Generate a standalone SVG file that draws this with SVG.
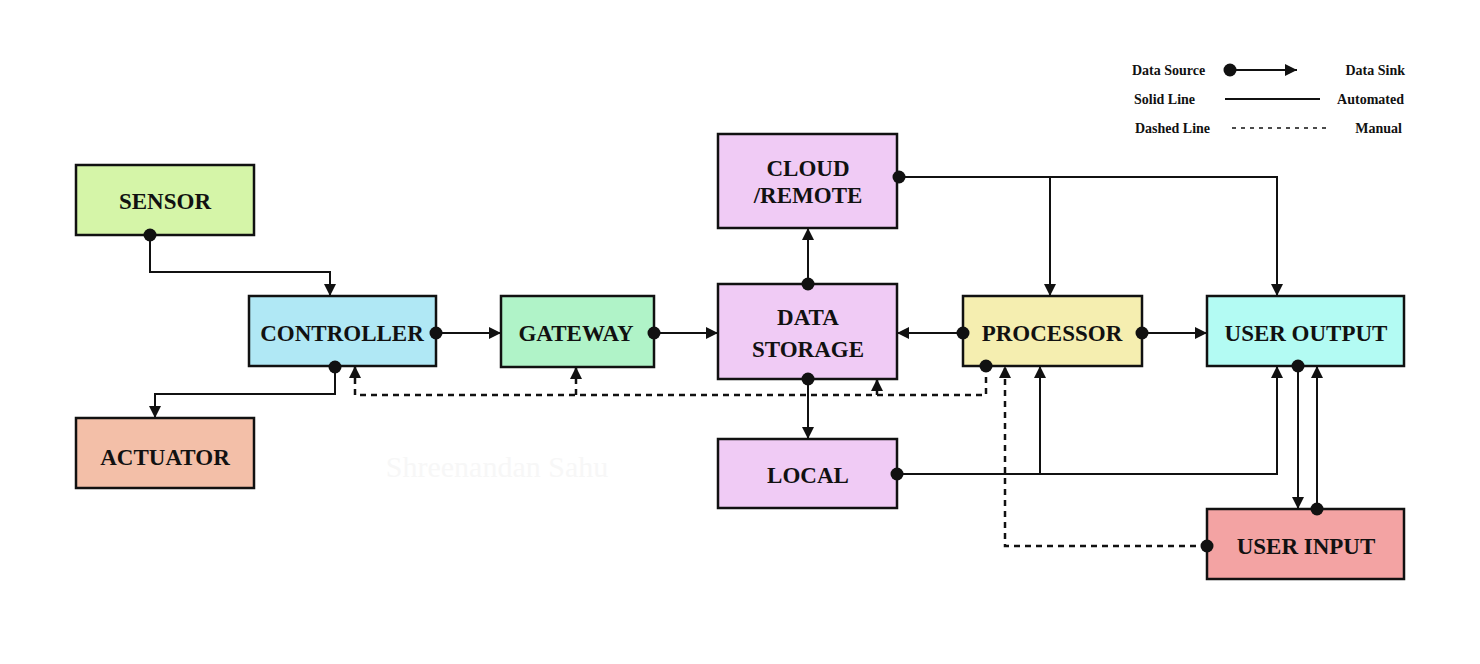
<svg xmlns="http://www.w3.org/2000/svg" width="1480" height="664" viewBox="0 0 1480 664">
<style>
.box{stroke:#111;stroke-width:2.5}
.lbl{font-family:"Liberation Serif","DejaVu Serif",serif;font-weight:bold;font-size:23px;fill:#111;text-anchor:middle;dominant-baseline:central}
.leg{font-family:"Liberation Serif","DejaVu Serif",serif;font-weight:bold;font-size:14px;fill:#111;dominant-baseline:central}
.c{fill:none;stroke:#111;stroke-width:2}
.d{fill:none;stroke:#111;stroke-width:2.5;stroke-dasharray:6 5}
</style>
<defs>
<marker id="dot" markerUnits="userSpaceOnUse" markerWidth="16" markerHeight="16" refX="8" refY="8" orient="auto"><circle cx="8" cy="8" r="6.5" fill="#111"/></marker>
<marker id="arr" markerUnits="userSpaceOnUse" markerWidth="14" markerHeight="14" refX="12" refY="7" orient="auto"><path d="M0,1 L12,7 L0,13 Z" fill="#111"/></marker>
</defs>
<rect width="1480" height="664" fill="#fff"/>
<text x="497" y="466" font-family="Liberation Serif,serif" font-size="30" fill="#f7f7f7" text-anchor="middle" dominant-baseline="central">Shreenandan Sahu</text>
<g id="sensor"><rect class="box" x="76" y="165" width="178" height="70" fill="#d5f5a8"/><text class="lbl" x="165" y="201">SENSOR</text></g>
<g id="controller"><rect class="box" x="249" y="296" width="187" height="70" fill="#b0e8f5"/><text class="lbl" x="342" y="333">CONTROLLER</text></g>
<g id="actuator"><rect class="box" x="76" y="418" width="178" height="70" fill="#f3bfa8"/><text class="lbl" x="165" y="457">ACTUATOR</text></g>
<g id="gateway"><rect class="box" x="501" y="296" width="153" height="71" fill="#b0f3c8"/><text class="lbl" x="576" y="333">GATEWAY</text></g>
<g id="cloud"><rect class="box" x="718" y="134" width="179" height="94" fill="#f0cbf5"/><text class="lbl" x="808" y="168">CLOUD</text><text class="lbl" x="808" y="195">/REMOTE</text></g>
<g id="datastorage"><rect class="box" x="718" y="284" width="179" height="95" fill="#f0cbf5"/><text class="lbl" x="808" y="317">DATA</text><text class="lbl" x="808" y="349">STORAGE</text></g>
<g id="local"><rect class="box" x="718" y="439" width="179" height="69" fill="#f0cbf5"/><text class="lbl" x="808" y="475">LOCAL</text></g>
<g id="processor"><rect class="box" x="963" y="296" width="179" height="70" fill="#f5eeb0"/><text class="lbl" x="1052" y="333">PROCESSOR</text></g>
<g id="useroutput"><rect class="box" x="1207" y="296" width="197" height="70" fill="#b3fbf3"/><text class="lbl" x="1306" y="333">USER OUTPUT</text></g>
<g id="userinput"><rect class="box" x="1207" y="509" width="197" height="70" fill="#f3a3a3"/><text class="lbl" x="1306" y="546">USER INPUT</text></g>
<g id="connectors">
<path class="c" d="M150,235 V272 H330 V296" marker-start="url(#dot)" marker-end="url(#arr)"/>
<path class="c" d="M335,367 V394 H155 V418" marker-start="url(#dot)" marker-end="url(#arr)"/>
<path class="c" d="M436,333 H501" marker-start="url(#dot)" marker-end="url(#arr)"/>
<path class="c" d="M654,333 H718" marker-start="url(#dot)" marker-end="url(#arr)"/>
<path class="c" d="M963,333 H897" marker-start="url(#dot)" marker-end="url(#arr)"/>
<path class="c" d="M808,284 V228" marker-start="url(#dot)" marker-end="url(#arr)"/>
<path class="c" d="M808,379 V439" marker-start="url(#dot)" marker-end="url(#arr)"/>
<path class="c" d="M899,177 H1277 V296" marker-start="url(#dot)" marker-end="url(#arr)"/>
<path class="c" d="M1050,177 V296" marker-end="url(#arr)"/>
<path class="c" d="M897,474 H1277 V366" marker-start="url(#dot)" marker-end="url(#arr)"/>
<path class="c" d="M1040,474 V366" marker-end="url(#arr)"/>
<path class="c" d="M1142,333 H1207" marker-start="url(#dot)" marker-end="url(#arr)"/>
<path class="c" d="M1298,366 V509" marker-start="url(#dot)" marker-end="url(#arr)"/>
<path class="c" d="M1317,509 V366" marker-start="url(#dot)" marker-end="url(#arr)"/>
<path class="d" d="M986,366 V395 H355 V366" marker-start="url(#dot)" marker-end="url(#arr)"/>
<path class="d" d="M576,395 V367" marker-end="url(#arr)"/>
<path class="d" d="M877,395 V379" marker-end="url(#arr)"/>
<path class="d" d="M1207,546 H1005 V366" marker-start="url(#dot)" marker-end="url(#arr)"/>
</g>
<g id="legend">
<text class="leg" x="1132" y="70">Data Source</text>
<path class="c" d="M1230,70 H1297" marker-start="url(#dot)" marker-end="url(#arr)"/>
<text class="leg" x="1405" y="70" text-anchor="end">Data Sink</text>
<text class="leg" x="1134" y="99">Solid Line</text>
<path class="c" d="M1225,99 H1320" stroke-width="2.5"/>
<text class="leg" x="1404" y="99" text-anchor="end">Automated</text>
<text class="leg" x="1135" y="128">Dashed Line</text>
<path d="M1232,128 H1328" fill="none" stroke="#111" stroke-width="1.5" stroke-dasharray="4 5"/>
<text class="leg" x="1402" y="128" text-anchor="end">Manual</text>
</g>
</svg>
